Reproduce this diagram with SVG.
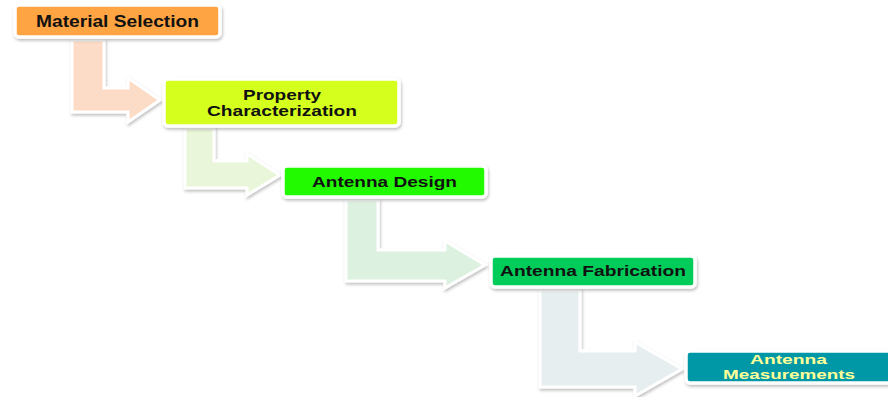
<svg xmlns="http://www.w3.org/2000/svg" width="888" height="397" viewBox="0 0 888 397">
<defs>
<filter id="sh" x="-10%" y="-20%" width="120%" height="150%">
<feDropShadow dx="1" dy="2" stdDeviation="1.5" flood-color="#000" flood-opacity="0.25"/>
</filter>
</defs>
<style>
.box{stroke:#fff;stroke-width:3.5;filter:url(#sh)}
.arr{stroke:#fff;stroke-width:3;stroke-linejoin:miter;filter:url(#sh)}
.t{font-family:"Liberation Sans",Arial,sans-serif;font-weight:bold;fill:#111;text-anchor:start}
</style>
<rect width="888" height="397" fill="#fff"/>
<g id="connectors">
<path class="arr" fill="#FCDCC7" d="M72,40 L104,40 L104,88 L128,88 L128,78 L160,100 L128,122 L128,112 L72,112 Z"/>
<path class="arr" fill="#E9F6D9" d="M185,128 L214,128 L214,161 L247,161 L247,154 L280,175 L247,195 L247,188 L185,188 Z"/>
<path class="arr" fill="#DDF1E1" d="M346,200 L378,200 L378,250 L445,250 L445,241 L485,265 L445,288 L445,281 L346,281 Z"/>
<path class="arr" fill="#E7EEF0" d="M540,290 L580,290 L580,351 L635,351 L635,342 L682,369 L635,396 L635,387 L540,387 Z"/>
</g>
<g id="n1">
<rect class="box" x="15" y="5" width="205" height="32" rx="4" fill="#FFA443"/>
<text class="t" x="36" y="27" font-size="16" textLength="163" lengthAdjust="spacingAndGlyphs">Material Selection</text>
</g>
<g id="n2">
<rect class="box" x="164" y="79" width="235" height="47" rx="4" fill="#D5FF1C"/>
<text class="t" x="243" y="100" font-size="14" textLength="78" lengthAdjust="spacingAndGlyphs">Property</text>
<text class="t" x="207" y="115.5" font-size="14" textLength="150" lengthAdjust="spacingAndGlyphs">Characterization</text>
</g>
<g id="n3">
<rect class="box" x="283" y="166" width="203" height="31" rx="4" fill="#23FA00"/>
<text class="t" x="312" y="187" font-size="15" textLength="145" lengthAdjust="spacingAndGlyphs">Antenna Design</text>
</g>
<g id="n4">
<rect class="box" x="491" y="256" width="204" height="31" rx="4" fill="#00CC5A"/>
<text class="t" x="500" y="276" font-size="15" textLength="186" lengthAdjust="spacingAndGlyphs">Antenna Fabrication</text>
</g>
<g id="n5">
<rect class="box" x="686" y="351" width="210" height="32" rx="4" fill="#0098A6"/>
<text class="t" x="750" y="364" font-size="13.5" textLength="77" lengthAdjust="spacingAndGlyphs" style="fill:#FFFF99">Antenna</text>
<text class="t" x="723" y="379" font-size="13.5" textLength="132" lengthAdjust="spacingAndGlyphs" style="fill:#FFFF99">Measurements</text>
</g>
</svg>
